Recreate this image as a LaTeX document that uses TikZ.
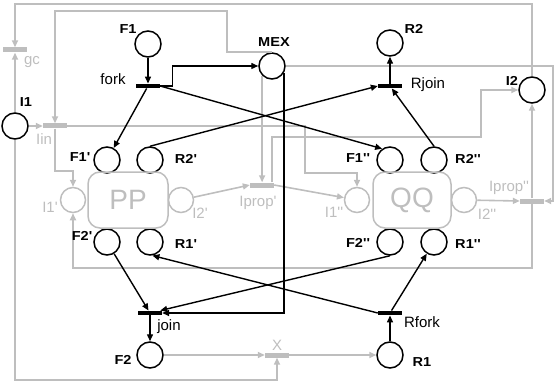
\documentclass[tikz,border=0pt]{standalone}
\usepackage{fontspec}
\setmainfont{Liberation Sans}[Ligatures=TeXOff]
\newfontfamily\labfont{Liberation Sans}[FakeStretch=1.12,Ligatures=TeXOff]
\usetikzlibrary{arrows.meta}
\definecolor{lg}{RGB}{190,190,190}
\begin{document}
\begin{tikzpicture}[x=1pt,y=-1pt,
  pl/.style={circle,draw,line width=1.5pt,minimum size=26pt,inner sep=0pt},
  gpl/.style={circle,draw=lg,line width=1.5pt,minimum size=25pt,inner sep=0pt},
  tr/.style={rectangle,fill=black,minimum width=24pt,minimum height=4.5pt,inner sep=0pt},
  gtr/.style={rectangle,fill=lg,minimum width=24pt,minimum height=5pt,inner sep=0pt},
  arr/.style={line width=1.4pt,-{Triangle[length=7pt,width=6pt]}},
  garr/.style={draw=lg,line width=1.6pt,-{Triangle[length=7pt,width=6pt]}},
  lab/.style={inner sep=0pt,font=\labfont\bfseries\fontsize{13}{14}\selectfont},
  tlab/.style={inner sep=0pt,font=\fontsize{15}{16}\selectfont},
  glab/.style={inner sep=0pt,text=lg,font=\fontsize{15}{16}\selectfont},
  box/.style={draw=lg,line width=1.5pt,rounded corners=12pt,minimum height=56pt,text=lg,font=\fontsize{28}{29}\selectfont}]
\useasboundingbox (0,0) rectangle (556,382);

% places
\node[pl] (F1) at (148,44) {};
\node[pl] (MEX) at (272,66) {};
\node[pl] (R2) at (390,43) {};
\node[pl] (I2) at (532,90) {};
\node[pl] (I1) at (15,126) {};
\node[pl] (F1a) at (107,160) {};
\node[pl] (R2a) at (150,160) {};
\node[pl] (F1b) at (390,160) {};
\node[pl] (R2b) at (434,160) {};
\node[pl] (F2a) at (107,242) {};
\node[pl] (R1a) at (150,242) {};
\node[pl] (F2b) at (390,242) {};
\node[pl] (R1b) at (434,242) {};
\node[pl] (F2) at (150,355) {};
\node[pl] (R1) at (390,355) {};

% gray places and boxes
\node[gpl] (I1a) at (73,200) {};
\node[gpl] (I2a) at (181,200) {};
\node[gpl] (I1b) at (357,200) {};
\node[gpl] (I2b) at (464,200) {};
\node[box,minimum width=80pt] (PP) at (128,200) {PP};
\node[box,minimum width=78pt] (QQ) at (412,200) {QQ};

% transitions
\node[tr] (fork) at (148,86) {};
\node[tr] (Rjoin) at (390,86) {};
\node[tr] (join) at (150,313) {};
\node[tr] (Rfork) at (390,313) {};
\node[gtr] (gc) at (15,50) {};
\node[gtr] (lin) at (55,126) {};
\node[gtr] (lp1) at (262,185) {};
\node[gtr] (lp2) at (532,201) {};
\node[gtr] (X) at (277,355) {};

% helper coordinates
\coordinate (c1) at (227,11);
\coordinate (c2) at (15,4);
\coordinate (c3) at (553,66);
\coordinate (c4) at (277,380);
\coordinate (c5) at (73,268);
\coordinate (c6) at (73,171);
\coordinate (c7) at (305,126);
\coordinate (c8) at (357,173);
\coordinate (c9) at (481,137);

% gray arcs
\draw[garr] (I2.north) |- (c2) -- (gc.north);
\draw[garr] (I1) -- (gc);
\draw[garr] (I1) -- (lin);
\draw[garr] (I1.south) |- (c4) -- (X.south);
\draw[garr] (MEX.north) -| (c1) -| (lin.north);
\draw[garr] (MEX.-136) -- (MEX.-136 |- lp1.north);
\draw[garr] (MEX.east) -- (c3) |- (lp2.east);
\draw[garr] (lin.south) |- (c6) -- (I1a.north);
\draw[garr] (lin.east) -- (c7) |- (c8) -- (I1b.north);
\draw[garr] (I2a) -- (lp1.west);
\draw[garr] (lp1.east) -- (I1b);
\draw[garr] ([xshift=-2pt]lp1.north east) |- (c9) |- (I2.west);
\draw[garr] (I2b) -- (lp2.west);
\draw[garr] (lp2) -- (I2);
\draw[garr] (lp2.south) |- (c5) -- (I1a.south);
\draw[garr] (F2) -- (X.west);
\draw[garr] (X.east) -- (R1);

% black arcs
\draw[arr] (F1) -- (fork);
\draw[arr] (fork.east) -- ++(12,0) |- (MEX.west);
\draw[arr] (fork) -- (F1a);
\draw[arr] (fork.east) -- (F1b.125);
\draw[arr] (R2a.north) -- (Rjoin.west);
\draw[arr] (R2b.north) -- (Rjoin);
\draw[arr] (Rjoin) -- (R2);
\draw[arr] (MEX.-30) |- (join.east);
\draw[arr] (F2a) -- (join);
\draw[arr] (F2b.south) -- (join);
\draw[arr] (join) -- (F2);
\draw[arr] (Rfork) -- (R1b);
\draw[arr] (Rfork.west) -- (R1a.-80);
\draw[arr] (R1) -- (Rfork);

% labels
\node[lab] (tF1) at (128,29) {F1};
\node[lab] (tMEX) at (274,42) {MEX};
\node[lab] (tR2) at (414,29) {R2};
\node[lab] (tI2) at (512,81) {I2};
\node[lab] (tI1) at (26,102) {I1};
\node[lab] (tF1a) at (80,157) {F1'};
\node[lab] (tR2a) at (186,159) {R2'};
\node[lab] (tF1b) at (358,158) {F1''};
\node[lab] (tR2b) at (468,159) {R2''};
\node[lab] (tF2a) at (82,236) {F2'};
\node[lab] (tR1a) at (186,244) {R1'};
\node[lab] (tF2b) at (358,243) {F2''};
\node[lab] (tR1b) at (468,244) {R1''};
\node[lab] (tF2) at (123,360) {F2};
\node[lab] (tR1) at (422,362) {R1};
\node[tlab] (tfork) at (113,79) {fork};
\node[tlab] (tRjoin) at (428,85) {Rjoin};
\node[tlab] (tjoin) at (169,327) {join};
\node[tlab] (tRfork) at (422,322) {Rfork};
\node[glab] (tgc) at (32,62) {gc};
\node[glab] (tlin) at (44,139) {Iin};
\node[glab] (tI1a) at (50,207) {I1'};
\node[glab] (tI2a) at (200,213) {I2'};
\node[glab] (tlp1) at (258,203) {Iprop'};
\node[glab] (tI1b) at (334,212) {I1''};
\node[glab] (tI2b) at (487,214) {I2''};
\node[glab] (tlp2) at (509,188) {Iprop''};
\node[glab] (tX) at (277,345) {X};
\end{tikzpicture}
\end{document}
